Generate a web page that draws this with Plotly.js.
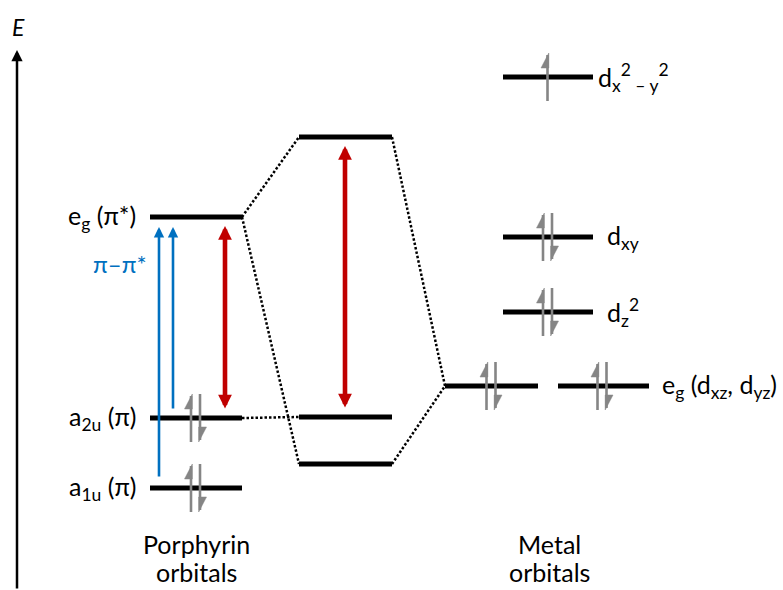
<!DOCTYPE html>
<html>
<head>
<meta charset="utf-8">
<script src="https://cdn.plot.ly/plotly-3.0.1.min.js"></script>
<style>html,body{margin:0;padding:0;background:#fff;}#chart{width:783px;height:590px;}</style>
</head>
<body>
<div id="chart"></div>
<script>
// ---------------- DATA (energies, arbitrary units) ----------------
const porphyrinLabels = ['e<sub>g</sub> (π*)', 'a<sub>2u</sub> (π)', 'a<sub>1u</sub> (π)'];
const porphyrinEnergies = [373, 172, 102];
const porphyrinElectrons = [0, 2, 2];

const complexEnergies = [453, 173, 126];

const metalLabels = ['d<sub>x</sub><sup>2</sup><sub> – y</sub><sup>2</sup>', 'd<sub>xy</sub>', 'd<sub>z</sub><sup>2</sup>', 'e<sub>g</sub> (d<sub>xz</sub>, d<sub>yz</sub>)'];
const metalEnergies = [513, 353, 278, 204];
const metalElectrons = [1, 2, 2, 2];

// transitions: [from column, from level, to column, to level]
const blueTransitions = [['P', 2, 'P', 0], ['P', 1, 'P', 0]];
const redTransitions = [['P', 1, 'P', 0], ['C', 1, 'C', 0]];
const transitionLabel = 'π–π*';

// correlation (dotted) lines: [column, level, side] -> [column, level, side]
const correlations = [
  [['P', 0, 1], ['C', 0, 0]],
  [['P', 0, 1], ['C', 2, 0]],
  [['P', 1, 1], ['C', 1, 0]],
  [['C', 0, 1], ['E', 0, 0]],
  [['C', 2, 1], ['E', 0, 0]]
];
const columnTitles = [['Porphyrin', 'orbitals'], ['Metal', 'orbitals']];
const axisLabel = 'E';

// ---------------- LAYOUT CONFIG ----------------
const W = 783, H = 590;
const FONT = 'Lato, "Open Sans", sans-serif';
const cols = {
  P: {x0: 150, x1: 242},
  C: {x0: 299, x1: 392},
  M: {x0: 503, x1: 593},
  E: {x0: 445, x1: 538},   // eg left bar
  E2: {x0: 558, x1: 649}   // eg right bar
};
const GRAY = '#858585', BLUE = '#0070C0', RED = '#C00000';
const LABEL_SIZE = 25;

function energyOf(c, i) {
  if (c === 'P') return porphyrinEnergies[i];
  if (c === 'C') return complexEnergies[i];
  if (c === 'E') return metalEnergies[3];
  return metalEnergies[i];
}

const traces = [];
const annotations = [];

// levels
function addLevel(x0, x1, e) {
  traces.push({x: [x0, x1], y: [e, e], mode: 'lines', line: {color: '#000', width: 5}, hoverinfo: 'skip', showlegend: false});
}
porphyrinEnergies.forEach(e => addLevel(cols.P.x0, cols.P.x1, e));
complexEnergies.forEach(e => addLevel(cols.C.x0, cols.C.x1, e));
metalEnergies.forEach((e, i) => {
  if (i < 3) addLevel(cols.M.x0, cols.M.x1, e);
  else { addLevel(cols.E.x0, cols.E.x1, e); addLevel(cols.E2.x0, cols.E2.x1, e); }
});

// dotted correlation lines
const dx = [], dy = [];
correlations.forEach(([a, b]) => {
  const ca = cols[a[0]], cb = cols[b[0]];
  dx.push(a[2] ? ca.x1 : ca.x0, b[2] ? cb.x1 : cb.x0, null);
  dy.push(energyOf(a[0], a[1]), energyOf(b[0], b[1]), null);
});
traces.push({x: dx, y: dy, mode: 'lines', line: {color: '#000', width: 2.5, dash: '2.5px,2px'}, hoverinfo: 'skip', showlegend: false});

// spin half-arrows
const sx = [], sy = [], hx = [], hy = [];
const HALF = 24, HEAD = 15, HW = 6.5;
function spinUp(x, e) {
  sx.push(x, x, null); sy.push(e - HALF, e + HALF - 2, null);
  hx.push(x + 1.3, x - HW, x + 1.3, x + 1.3, null);
  hy.push(e + HALF, e + HALF - HEAD, e + HALF - HEAD, e + HALF, null);
}
function spinDown(x, e) {
  sx.push(x, x, null); sy.push(e + HALF, e - HALF + 2, null);
  hx.push(x - 1.3, x + HW, x - 1.3, x - 1.3, null);
  hy.push(e - HALF, e - HALF + HEAD, e - HALF + HEAD, e - HALF, null);
}
function addSpins(center, e, n) {
  if (n === 1) spinUp(center, e);
  else if (n === 2) { spinUp(center - 4.5, e); spinDown(center + 4.5, e); }
}
porphyrinElectrons.forEach((n, i) => addSpins(195.5, porphyrinEnergies[i], n));
metalElectrons.forEach((n, i) => {
  if (i < 3) addSpins(547.5, metalEnergies[i], n);
  else { addSpins(491, metalEnergies[i], n); addSpins(602, metalEnergies[i], n); }
});
traces.push({x: sx, y: sy, mode: 'lines', line: {color: GRAY, width: 2.6}, hoverinfo: 'skip', showlegend: false});
traces.push({x: hx, y: hy, mode: 'lines', fill: 'toself', fillcolor: GRAY, line: {color: GRAY, width: 0.5}, hoverinfo: 'skip', showlegend: false});

// transition arrows
const blueX = [159, 173];
blueTransitions.forEach((t, k) => {
  annotations.push({
    x: blueX[k], y: energyOf(t[2], t[3]) - 10, ax: blueX[k], ay: energyOf(t[0], t[1]) + (k === 0 ? 10 : 8),
    xref: 'x', yref: 'y', axref: 'x', ayref: 'y', text: '', showarrow: true,
    arrowhead: 2, arrowsize: 0.8, arrowwidth: 2.6, arrowcolor: BLUE, standoff: 0, startstandoff: 0
  });
});
const redX = [225, 345];
redTransitions.forEach((t, k) => {
  annotations.push({
    x: redX[k], y: energyOf(t[2], t[3]) - 9, ax: redX[k], ay: energyOf(t[0], t[1]) + 8,
    xref: 'x', yref: 'y', axref: 'x', ayref: 'y', text: '', showarrow: true,
    arrowhead: 2, arrowside: 'end+start', arrowsize: 0.6, arrowwidth: 4.6, arrowcolor: RED, standoff: 0, startstandoff: 0
  });
});
annotations.push({x: 120, y: 327, text: transitionLabel, showarrow: false, font: {family: FONT, size: 24, color: BLUE}, xanchor: 'center', yanchor: 'middle'});

// energy axis
annotations.push({x: 17, y: 540, ax: 17, ay: 0, xref: 'x', yref: 'y', axref: 'x', ayref: 'y', text: '', showarrow: true,
  arrowhead: 2, arrowsize: 0.9, arrowwidth: 2.5, arrowcolor: '#000', standoff: 0, startstandoff: 0});
annotations.push({x: 18, y: 563, text: '<i>' + axisLabel + '</i>', showarrow: false, font: {family: FONT, size: 23, color: '#000'}, xanchor: 'center', yanchor: 'middle'});

// level labels
porphyrinLabels.forEach((lab, i) => annotations.push({x: 138, y: porphyrinEnergies[i], text: lab, showarrow: false,
  font: {family: FONT, size: LABEL_SIZE, color: '#000'}, xanchor: 'right', yanchor: 'middle'}));
const metalLabelX = [596, 605, 605, 660];
metalLabels.forEach((lab, i) => annotations.push({x: metalLabelX[i], y: metalEnergies[i], text: lab, showarrow: false,
  font: {family: FONT, size: LABEL_SIZE, color: '#000'}, xanchor: 'left', yanchor: 'middle'}));

// column titles (two lines each)
const titleX = [196, 549];
const titleY = [46, 18];
columnTitles.forEach((lines, i) => lines.forEach((t, j) => annotations.push({x: titleX[i], y: titleY[j], text: t, showarrow: false,
  font: {family: FONT, size: 25, color: '#000'}, xanchor: 'center', yanchor: 'middle', borderpad: 0})));

const layout = {
  width: W, height: H, margin: {l: 0, r: 0, t: 0, b: 0},
  paper_bgcolor: '#fff', plot_bgcolor: '#fff',
  xaxis: {range: [0, W], visible: false, fixedrange: true},
  yaxis: {range: [0, H], visible: false, fixedrange: true},
  showlegend: false, annotations: annotations
};
Plotly.newPlot('chart', traces, layout, {displayModeBar: false, staticPlot: true});
</script>
</body>
</html>
